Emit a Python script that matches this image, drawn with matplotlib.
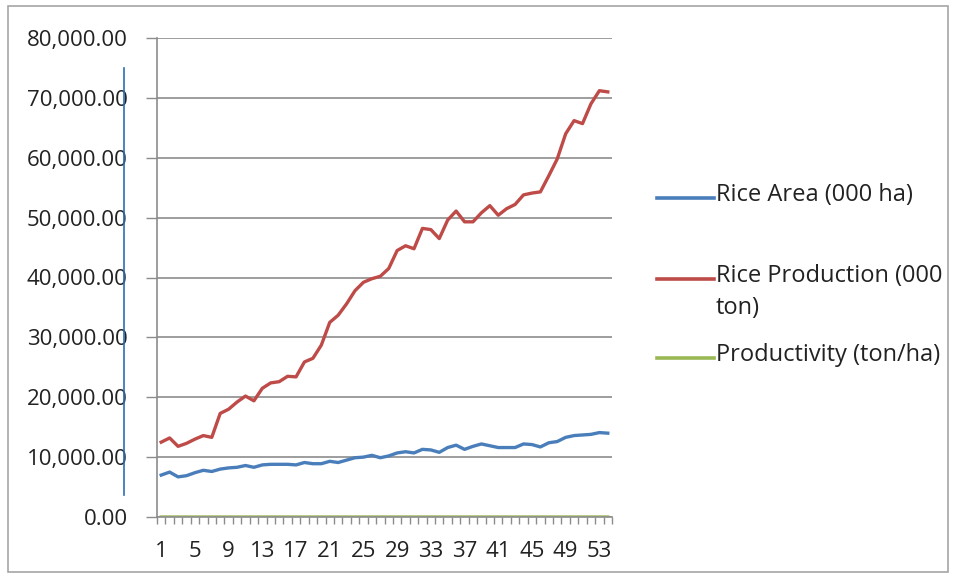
import matplotlib
matplotlib.use("Agg")
import matplotlib.pyplot as plt
from matplotlib.lines import Line2D
from matplotlib.patches import Rectangle
from matplotlib.ticker import FuncFormatter, FixedLocator
import numpy as np

# data
periods = list(range(1, 55))
rice_area = [7000, 7500, 6700, 6900, 7400, 7800, 7600, 8000, 8200, 8300,
             8600, 8300, 8700, 8800, 8800, 8800, 8700, 9100, 8900, 8900,
             9300, 9100, 9500, 9900, 10000, 10300, 9900, 10200, 10700, 10900,
             10700, 11300, 11200, 10800, 11600, 12000, 11300, 11800, 12200, 11900,
             11600, 11600, 11600, 12200, 12100, 11700, 12400, 12600, 13300, 13600,
             13700, 13800, 14100, 14000]
rice_prod = [12500, 13200, 11800, 12300, 13000, 13600, 13300, 17300, 18000, 19200,
             20200, 19400, 21500, 22400, 22600, 23500, 23400, 25900, 26500, 28700,
             32500, 33700, 35600, 37800, 39200, 39800, 40200, 41500, 44500, 45300,
             44800, 48200, 48000, 46500, 49600, 51100, 49300, 49300, 50800, 52000,
             50400, 51500, 52200, 53800, 54100, 54300, 57000, 59800, 64000, 66200,
             65700, 69000, 71200, 71000]
productivity = [2.1, 2.2, 2.1, 2.2, 2.3, 2.3, 2.3, 2.5, 2.6, 2.7,
                2.8, 2.8, 2.9, 2.9, 2.9, 3.0, 3.0, 3.1, 3.2, 3.3,
                3.5, 3.6, 3.7, 3.8, 3.9, 3.9, 4.0, 4.0, 4.1, 4.2,
                4.2, 4.3, 4.3, 4.3, 4.3, 4.3, 4.4, 4.2, 4.2, 4.4,
                4.3, 4.4, 4.5, 4.4, 4.5, 4.6, 4.6, 4.7, 4.8, 4.9,
                4.8, 5.0, 5.1, 5.1]
labels = ['Rice Area (000 ha)', 'Rice Production (000\nton)', 'Productivity (ton/ha)']
colors = ['#4a7ebb', '#be4b48', '#98b954']

plt.rcParams['font.family'] = ['Open Sans', 'DejaVu Sans']

fig = plt.figure(figsize=(9.56, 5.78), dpi=100)
ax = fig.add_axes([157/956, 1-517/578, (612-157)/956, (517-38)/578])

ax.plot(periods, rice_area, color=colors[0], lw=2.4, solid_joinstyle='round')
ax.plot(periods, rice_prod, color=colors[1], lw=2.4, solid_joinstyle='round')
ax.plot(periods, productivity, color=colors[2], lw=2.4)

ax.set_xlim(0.5, 54.5)
ax.set_ylim(0, 80000)
ax.set_yticks(np.arange(0, 80001, 10000))
ax.yaxis.set_major_formatter(FuncFormatter(lambda v, p: '{:,.2f}'.format(v)))
ax.grid(axis='y', color='#8c8c8c', lw=1.2)
ax.set_axisbelow(True)

ax.set_xticks(periods[::4])
ax.xaxis.set_minor_locator(FixedLocator(np.arange(0.5, 55, 1)))
ax.tick_params(axis='x', which='major', length=0, pad=17, labelsize=16, colors='#222222')
ax.tick_params(axis='x', which='minor', length=5, color='#8c8c8c', width=1)
ax.tick_params(axis='y', length=8, color='#8c8c8c', width=1, pad=13, labelsize=16, labelcolor='#222222')

for s in ['top', 'right']:
    ax.spines[s].set_visible(False)
ax.spines['left'].set_color('#8c8c8c')
ax.spines['bottom'].set_color('#8c8c8c')
ax.spines['left'].set_linewidth(1.2)
ax.spines['bottom'].set_linewidth(1.2)

# legend drawn by hand (Excel style spacing, key aligned with first text line)
legend_y = [198, 279, 358]
for lab, col, yy in zip(labels, colors, legend_y):
    y = 1 - yy/578
    fig.lines.append(Line2D([657/956, 714/956], [y, y], transform=fig.transFigure, color=col, lw=2.6))
    fig.text(716/956, y + 15/578, lab, fontsize=17, va='top', ha='left', color='#222222',
             linespacing=1.45, transform=fig.transFigure)

# outer frame of the chart
fig.patches.append(Rectangle((8/956, 1-572/578), (948-8)/956, (572-6)/578, transform=fig.transFigure,
                             fill=False, edgecolor='#a6a6a6', lw=1.2))
# stray blue line over the y labels
fig.lines.append(Line2D([124/956, 124/956], [1-68/578, 1-495/578], transform=fig.transFigure,
                        color='#2f6db5', lw=1.2))

plt.savefig('out.png', dpi=100)
